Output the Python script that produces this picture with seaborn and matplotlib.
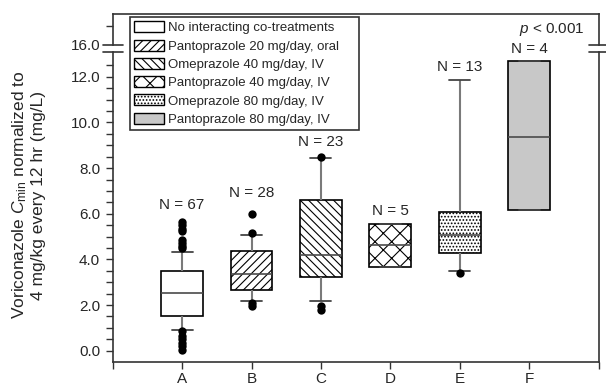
import numpy as np
import pandas as pd
import matplotlib
matplotlib.use("Agg")
import matplotlib.pyplot as plt
import seaborn as sns
from matplotlib.patches import Patch
from matplotlib.lines import Line2D

# ---------------- data ----------------
groups = ["A", "B", "C", "D", "E", "F"]
treatments = ["No interacting co-treatments",
              "Pantoprazole 20 mg/day, oral",
              "Omeprazole 40 mg/day, IV",
              "Pantoprazole 40 mg/day, IV",
              "Omeprazole 80 mg/day, IV",
              "Pantoprazole 80 mg/day, IV"]
n_counts = [67, 28, 23, 5, 13, 4]
whisker_low = [0.90, 2.16, 2.16, 3.66, 3.50, 6.16]
q1 = [1.50, 2.67, 3.21, 3.66, 4.28, 6.16]
median = [2.54, 3.36, 4.19, 4.64, 5.07, 9.38]
q3 = [3.50, 4.35, 6.61, 5.56, 6.06, 12.70]
whisker_high = [4.31, 5.08, 8.45, 5.56, 11.86, 12.70]
outlier_group = ["A"] * 14 + ["B"] * 4 + ["C"] * 3 + ["E"]
outlier_value = [5.65, 5.50, 5.35, 5.25, 4.85, 4.70, 4.60, 4.50,
                 0.85, 0.65, 0.50, 0.35, 0.20, 0.03,
                 6.01, 5.15, 2.08, 1.95,
                 8.50, 1.97, 1.80,
                 3.39]
p_text = "< 0.001"

# ---------------- style ----------------
fills = ["white", "white", "white", "white", "white", "#c8c8c8"]
hatches = [None, "////", "\\\\\\\\", "xx", ".....", None]
n_label_y = [6.38, 6.89, 9.15, 6.13, 12.44, 13.2]

sns.set_style("ticks")
plt.rcParams["font.family"] = ["Liberation Sans", "DejaVu Sans"]
plt.rcParams["mathtext.fontset"] = "custom"
plt.rcParams["mathtext.rm"] = "Liberation Sans"
plt.rcParams["mathtext.it"] = "Liberation Sans:italic"
plt.rcParams["hatch.linewidth"] = 0.8
plt.rcParams["axes.edgecolor"] = "#333333"

rows = []
for g, a, b, c, d, e in zip(groups, whisker_low, q1, median, q3, whisker_high):
    for v in (a, b, c, d, e):
        rows.append({"group": g, "value": v})
df = pd.DataFrame(rows)
df_out = pd.DataFrame({"group": outlier_group, "value": outlier_value})

W, H = 606, 390
fig = plt.figure(figsize=(W / 100, H / 100), dpi=100)

def fx(px):
    return px / W

def fy(py):
    return 1 - py / H

left, right = 112.7, 598.5
ax = fig.add_axes([fx(left), fy(362.3), fx(right - left), (362.3 - 51.7) / H])
axt = fig.add_axes([fx(left), fy(45.0), fx(right - left), (45.0 - 13.5) / H])

sns.boxplot(data=df, x="group", y="value", hue="group", order=groups,
            hue_order=groups, palette=dict(zip(groups, fills)),
            saturation=1, width=0.6, whis=(0, 100), linecolor="black",
            linewidth=1.2, legend=False, ax=ax,
            whiskerprops=dict(color="#7a7a7a", linewidth=1.5),
            capprops=dict(color="#444444", linewidth=1.3),
            medianprops=dict(color="#4a4a4a", linewidth=1.2))

boxes = sorted(ax.patches, key=lambda p: p.get_path().vertices[:, 0].mean())
for p, h in zip(boxes, hatches):
    if h:
        p.set_hatch(h)

sns.stripplot(data=df_out, x="group", y="value", order=groups, jitter=False,
              color="black", size=6, ax=ax, zorder=5)

ax.set_xlim(-1, 6)
ax.set_ylim(-0.51, 13.1)
ax.set_xticks(range(-1, 7))
ax.set_xticklabels([""] + groups + [""])
ax.set_yticks(np.arange(0, 12.1, 2))
ax.set_yticks(np.arange(0.5, 12.6, 0.5), minor=True)
ax.yaxis.set_major_formatter(matplotlib.ticker.FormatStrFormatter("%.1f"))
ax.tick_params(axis="both", which="both", direction="out", length=5,
               width=1.0, color="#333333", labelsize=11, pad=4)
ax.tick_params(axis="x", pad=2)
ax.set_xlabel("")
ax.set_ylabel("")
for s in ("left", "right", "bottom"):
    ax.spines[s].set_visible(True)
    ax.spines[s].set_linewidth(1.2)
ax.spines["top"].set_visible(False)

axt.set_xlim(-1, 6)
axt.set_ylim(16, 16.85)
axt.set_xticks([])
axt.set_yticks([16])
axt.set_yticks([16.5], minor=True)
axt.yaxis.set_major_formatter(matplotlib.ticker.FormatStrFormatter("%.1f"))
axt.tick_params(axis="y", which="both", direction="out", length=5,
                width=1.0, color="#333333", labelsize=11, pad=4)
axt.tick_params(axis="y", which="major", length=0, pad=9)
for s in ("left", "right", "top"):
    axt.spines[s].set_visible(True)
    axt.spines[s].set_linewidth(1.2)
axt.spines["bottom"].set_visible(False)
axt.patch.set_alpha(0)

# y axis title (spans both broken segments)
fig.text(fx(28), fy(195), "Voriconazole $\\mathit{C}_{\\mathrm{min}}$ normalized to\n"
         "4 mg/kg every 12 hr (mg/L)", rotation=90, ha="center", va="center",
         fontsize=12.5, linespacing=1.12, multialignment="center")

# N labels and p value
for i, (n, yv) in enumerate(zip(n_counts, n_label_y)):
    ax.text(i, yv, f"N = {n}", ha="center", va="center", fontsize=11,
            clip_on=False)
ax.text(5.33, 14.08, "$\\mathit{p}$" + " " + p_text, ha="center",
        va="center", fontsize=11, clip_on=False)

# axis break marks
for xc in (left, right):
    for yy in (45.0, 51.7):
        fig.add_artist(Line2D([fx(xc - 10), fx(xc + 10)], [fy(yy), fy(yy)],
                              transform=fig.transFigure, color="#333333",
                              lw=1.2))

handles = [Patch(facecolor=f, edgecolor="black", hatch=h, linewidth=1.0)
           for f, h in zip(fills, hatches)]
leg = fig.legend(handles, treatments, loc="upper left", mode="expand",
                 bbox_to_anchor=(fx(130), fy(17.3), fx(359) - fx(130), 0),
                 bbox_transform=fig.transFigure,
                 borderaxespad=0, fontsize=9.5, frameon=True, fancybox=False,
                 framealpha=1, edgecolor="#333333", handlelength=2.3,
                 handleheight=0.9, labelspacing=0.4, handletextpad=0.3,
                 borderpad=0.3)
leg.get_frame().set_linewidth(1.2)

fig.savefig("out.png", dpi=100)
